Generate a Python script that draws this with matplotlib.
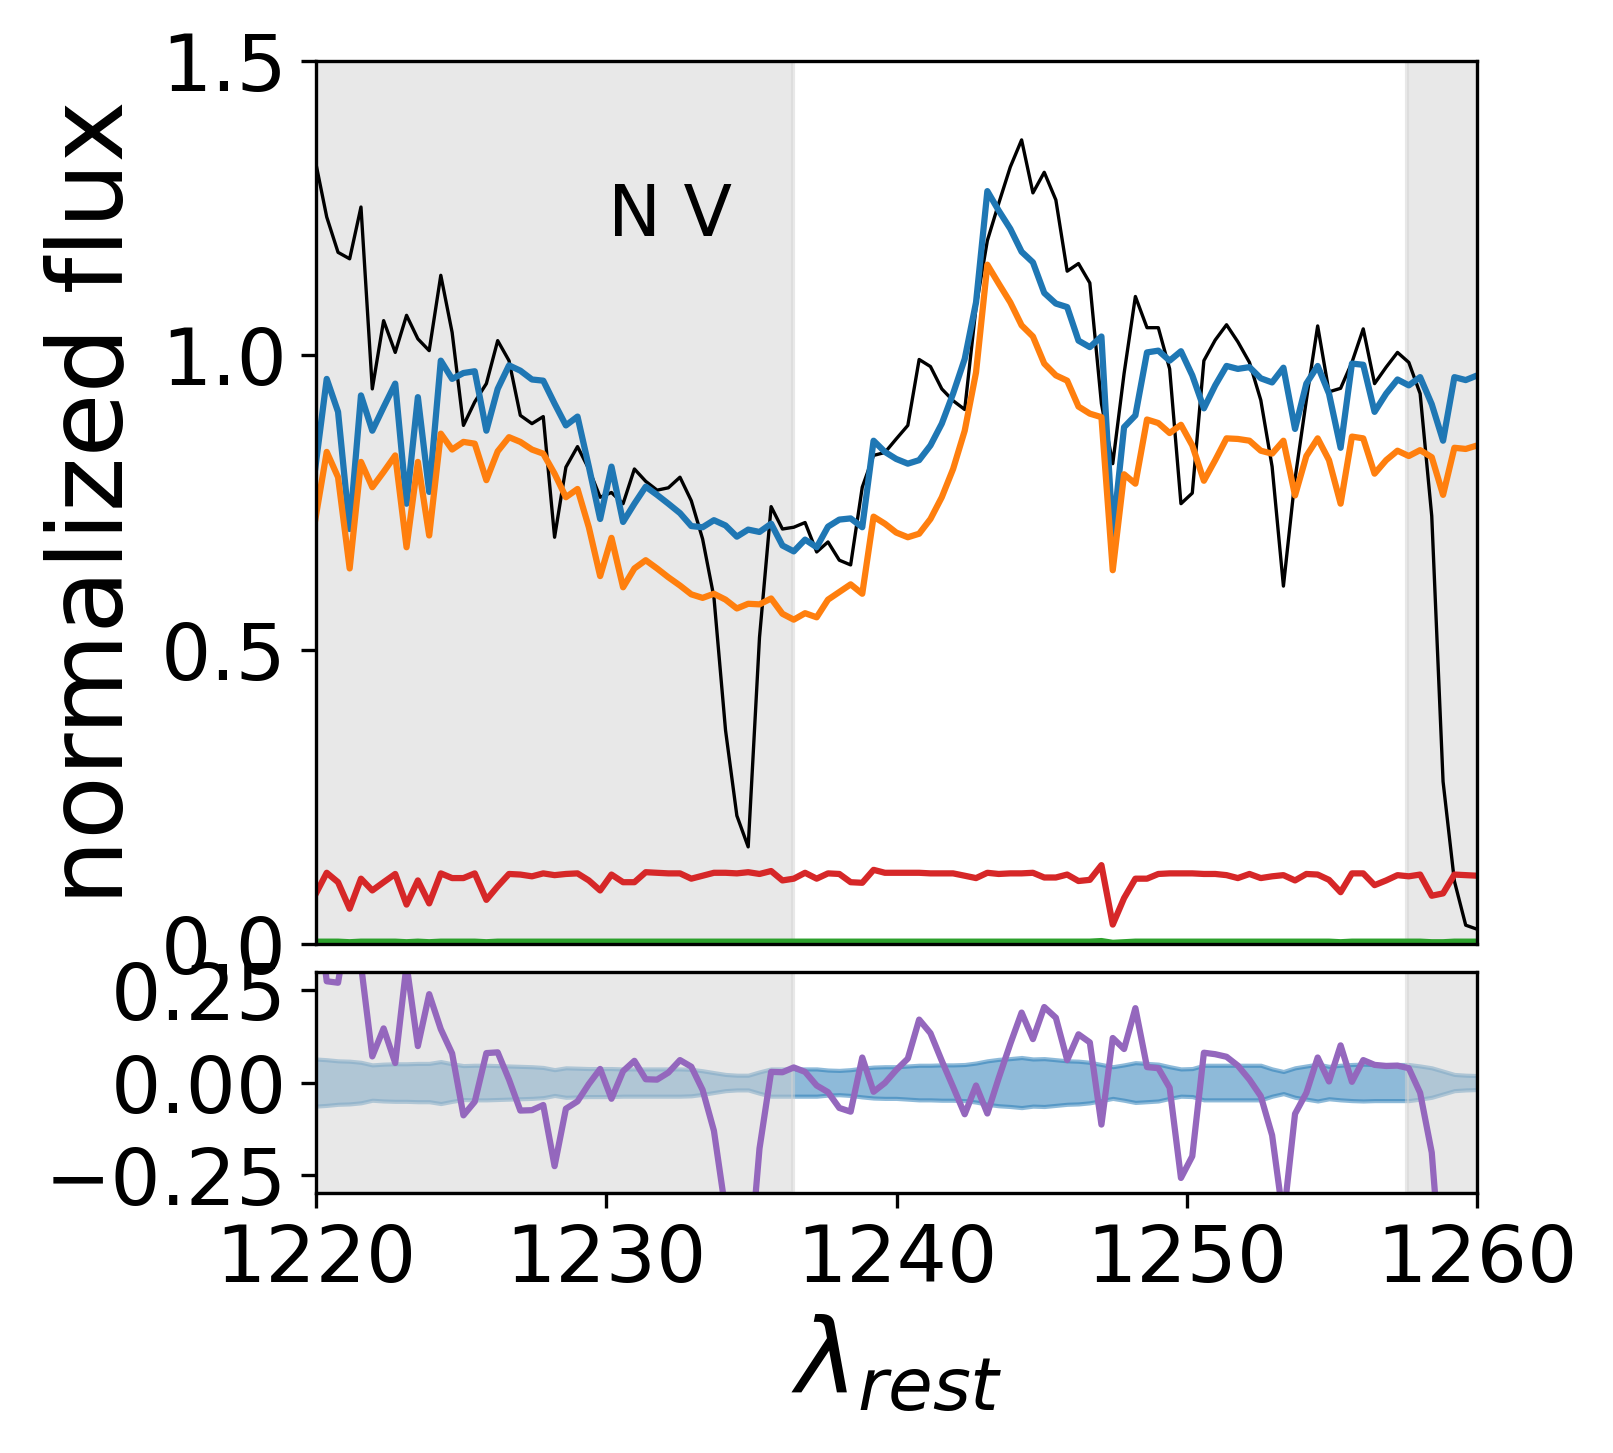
import matplotlib
matplotlib.use("Agg")
from matplotlib import pyplot as plt

# rest-frame wavelength grid of the spectrum
wave = [1219.98, 1220.37, 1220.76, 1221.16, 1221.55, 1221.94, 1222.33, 1222.73, 1223.12, 1223.51,
        1223.90, 1224.30, 1224.69, 1225.08, 1225.47, 1225.87, 1226.26, 1226.65, 1227.04, 1227.44,
        1227.83, 1228.22, 1228.61, 1229.01, 1229.40, 1229.79, 1230.18, 1230.58, 1230.97, 1231.36,
        1231.75, 1232.14, 1232.54, 1232.93, 1233.32, 1233.71, 1234.11, 1234.50, 1234.89, 1235.28,
        1235.68, 1236.07, 1236.46, 1236.85, 1237.25, 1237.64, 1238.03, 1238.42, 1238.82, 1239.21,
        1239.60, 1239.99, 1240.39, 1240.78, 1241.17, 1241.56, 1241.95, 1242.35, 1242.74, 1243.13,
        1243.52, 1243.92, 1244.31, 1244.70, 1245.09, 1245.49, 1245.88, 1246.27, 1246.66, 1247.06,
        1247.45, 1247.84, 1248.23, 1248.63, 1249.02, 1249.41, 1249.80, 1250.19, 1250.59, 1250.98,
        1251.37, 1251.76, 1252.16, 1252.55, 1252.94, 1253.33, 1253.73, 1254.12, 1254.51, 1254.90,
        1255.30, 1255.69, 1256.08, 1256.47, 1256.87, 1257.26, 1257.65, 1258.04, 1258.44, 1258.83,
        1259.22, 1259.61, 1260.01]

# observed normalized flux (black)
flux = [1.330, 1.235, 1.175, 1.164, 1.252, 0.943, 1.059, 1.005, 1.068, 1.028,
        1.008, 1.136, 1.039, 0.881, 0.921, 0.952, 1.025, 0.991, 0.898, 0.884,
        0.896, 0.691, 0.810, 0.845, 0.807, 0.759, 0.767, 0.748, 0.807, 0.786,
        0.771, 0.775, 0.793, 0.753, 0.688, 0.589, 0.363, 0.218, 0.165, 0.521,
        0.743, 0.705, 0.708, 0.716, 0.666, 0.683, 0.652, 0.644, 0.776, 0.830,
        0.835, 0.858, 0.881, 0.993, 0.981, 0.943, 0.923, 0.908, 1.082, 1.195,
        1.258, 1.320, 1.366, 1.276, 1.311, 1.264, 1.143, 1.156, 1.123, 0.918,
        0.816, 0.969, 1.100, 1.047, 1.047, 0.977, 0.748, 0.766, 0.991, 1.026,
        1.052, 1.023, 0.988, 0.924, 0.811, 0.608, 0.790, 0.924, 1.050, 0.938,
        0.944, 0.988, 1.045, 0.952, 0.980, 1.005, 0.988, 0.935, 0.727, 0.276,
        0.107, 0.032, 0.025]

# total model (blue)
model = [0.810, 0.960, 0.904, 0.705, 0.932, 0.872, 0.912, 0.952, 0.748, 0.929,
         0.768, 0.991, 0.960, 0.970, 0.973, 0.872, 0.943, 0.983, 0.974, 0.959,
         0.957, 0.918, 0.881, 0.896, 0.811, 0.722, 0.811, 0.717, 0.748, 0.777,
         0.763, 0.748, 0.732, 0.710, 0.708, 0.720, 0.711, 0.692, 0.704, 0.700,
         0.714, 0.677, 0.667, 0.687, 0.674, 0.709, 0.721, 0.723, 0.708, 0.855,
         0.836, 0.824, 0.816, 0.822, 0.847, 0.884, 0.935, 0.994, 1.090, 1.279,
         1.246, 1.215, 1.176, 1.158, 1.106, 1.088, 1.082, 1.025, 1.014, 1.032,
         0.695, 0.878, 0.898, 1.005, 1.008, 0.991, 1.007, 0.966, 0.910, 0.949,
         0.982, 0.977, 0.980, 0.961, 0.954, 0.979, 0.875, 0.952, 0.982, 0.935,
         0.843, 0.986, 0.984, 0.904, 0.935, 0.959, 0.949, 0.963, 0.917, 0.855,
         0.963, 0.958, 0.966]

# components (orange, red, green)
comp_a = [0.722, 0.836, 0.793, 0.638, 0.819, 0.776, 0.802, 0.830, 0.674, 0.819,
          0.694, 0.867, 0.840, 0.853, 0.850, 0.788, 0.837, 0.861, 0.853, 0.840,
          0.833, 0.799, 0.759, 0.773, 0.708, 0.625, 0.690, 0.606, 0.638, 0.652,
          0.638, 0.623, 0.609, 0.594, 0.588, 0.595, 0.585, 0.570, 0.578, 0.577,
          0.587, 0.561, 0.551, 0.562, 0.555, 0.585, 0.598, 0.611, 0.595, 0.726,
          0.714, 0.699, 0.691, 0.697, 0.722, 0.759, 0.807, 0.872, 0.971, 1.154,
          1.122, 1.090, 1.051, 1.032, 0.986, 0.966, 0.957, 0.913, 0.901, 0.895,
          0.635, 0.798, 0.782, 0.891, 0.885, 0.868, 0.882, 0.847, 0.787, 0.822,
          0.859, 0.858, 0.855, 0.838, 0.833, 0.855, 0.762, 0.829, 0.859, 0.822,
          0.748, 0.862, 0.859, 0.799, 0.822, 0.838, 0.829, 0.839, 0.827, 0.763,
          0.843, 0.841, 0.847]

comp_b = [0.084, 0.121, 0.105, 0.060, 0.111, 0.091, 0.105, 0.119, 0.067, 0.108,
          0.069, 0.120, 0.112, 0.112, 0.120, 0.075, 0.098, 0.119, 0.118, 0.115,
          0.120, 0.117, 0.119, 0.120, 0.108, 0.091, 0.118, 0.105, 0.105, 0.122,
          0.121, 0.120, 0.120, 0.111, 0.116, 0.121, 0.121, 0.120, 0.122, 0.119,
          0.124, 0.108, 0.111, 0.121, 0.111, 0.120, 0.119, 0.105, 0.104, 0.126,
          0.121, 0.121, 0.121, 0.121, 0.120, 0.120, 0.120, 0.116, 0.112, 0.121,
          0.119, 0.120, 0.120, 0.121, 0.113, 0.113, 0.118, 0.107, 0.109, 0.134,
          0.033, 0.078, 0.111, 0.111, 0.119, 0.120, 0.120, 0.120, 0.119, 0.119,
          0.117, 0.112, 0.119, 0.112, 0.115, 0.117, 0.108, 0.119, 0.118, 0.109,
          0.088, 0.120, 0.120, 0.100, 0.108, 0.117, 0.115, 0.118, 0.082, 0.086,
          0.118, 0.117, 0.116]

comp_c = [0.004, 0.004, 0.004, 0.003, 0.004, 0.004, 0.004, 0.004, 0.003, 0.004,
          0.003, 0.004, 0.004, 0.004, 0.004, 0.003, 0.004, 0.004, 0.004, 0.004,
          0.004, 0.004, 0.004, 0.004, 0.004, 0.004, 0.004, 0.004, 0.004, 0.004,
          0.004, 0.004, 0.004, 0.004, 0.004, 0.004, 0.004, 0.004, 0.004, 0.004,
          0.004, 0.004, 0.004, 0.004, 0.004, 0.004, 0.004, 0.004, 0.004, 0.004,
          0.004, 0.004, 0.004, 0.004, 0.004, 0.004, 0.004, 0.004, 0.004, 0.004,
          0.004, 0.004, 0.004, 0.004, 0.004, 0.004, 0.004, 0.004, 0.004, 0.005,
          0.002, 0.003, 0.004, 0.004, 0.004, 0.004, 0.004, 0.004, 0.004, 0.004,
          0.004, 0.004, 0.004, 0.004, 0.004, 0.004, 0.004, 0.004, 0.004, 0.004,
          0.003, 0.004, 0.004, 0.004, 0.004, 0.004, 0.004, 0.004, 0.003, 0.003,
          0.004, 0.004, 0.004]

# 1-sigma flux uncertainty (band in residual panel)
err = [0.064, 0.062, 0.059, 0.058, 0.055, 0.048, 0.050, 0.051, 0.051, 0.052,
       0.052, 0.057, 0.051, 0.046, 0.047, 0.047, 0.046, 0.045, 0.044, 0.043,
       0.041, 0.035, 0.040, 0.039, 0.038, 0.038, 0.038, 0.037, 0.037, 0.037,
       0.037, 0.037, 0.037, 0.036, 0.032, 0.027, 0.022, 0.020, 0.020, 0.029,
       0.037, 0.037, 0.037, 0.037, 0.037, 0.034, 0.033, 0.035, 0.039, 0.042,
       0.043, 0.043, 0.045, 0.047, 0.047, 0.048, 0.048, 0.049, 0.053, 0.059,
       0.063, 0.065, 0.068, 0.064, 0.065, 0.062, 0.059, 0.058, 0.055, 0.049,
       0.043, 0.048, 0.054, 0.052, 0.050, 0.043, 0.037, 0.038, 0.047, 0.047,
       0.047, 0.047, 0.047, 0.047, 0.037, 0.030, 0.040, 0.045, 0.050, 0.044,
       0.047, 0.049, 0.050, 0.049, 0.049, 0.049, 0.049, 0.045, 0.040, 0.031,
       0.022, 0.020, 0.019]

# masked wavelength ranges
masks = [(1215.0, 1236.43), (1257.6, 1265.0)]

resid = [f - m for f, m in zip(flux, model)]
neg_err = [-e for e in err]

fig = plt.figure(figsize=(1613 / 300, 1453 / 300), dpi=300)
ax1 = fig.add_axes([0.1959, 0.3503, 0.7198, 0.6077])
ax2 = fig.add_axes([0.1959, 0.1789, 0.7198, 0.1521], sharex=ax1)

for lo, hi in masks:
    ax1.axvspan(lo, hi, color='lightgray', alpha=0.5, zorder=1)
ax1.plot(wave, flux, color='k', lw=0.8, zorder=2)
ax1.plot(wave, model, color='C0', lw=1.5, zorder=2)
ax1.plot(wave, comp_a, color='C1', lw=1.5, zorder=2)
ax1.plot(wave, comp_b, color='C3', lw=1.5, zorder=2)
ax1.plot(wave, comp_c, color='C2', lw=1.5, zorder=2)
ax1.text(1232.2, 1.236, 'N V', fontsize=17, ha='center', va='center')

ax1.set_xlim(1220, 1260)
ax1.set_ylim(0, 1.5)
ax1.set_yticks([0.0, 0.5, 1.0, 1.5])
ax1.tick_params(axis='x', bottom=False, labelbottom=False)
ax1.tick_params(axis='y', labelsize=19)
ax1.set_ylabel('normalized flux', fontsize=25)

ax2.fill_between(wave, neg_err, err, color='C0', alpha=0.5, zorder=1)
for lo, hi in masks:
    ax2.axvspan(lo, hi, color='lightgray', alpha=0.5, zorder=1)
ax2.plot(wave, resid, color='C4', lw=1.5, zorder=2)
ax2.set_ylim(-0.3, 0.3)
ax2.set_yticks([-0.25, 0.0, 0.25])
ax2.set_xticks([1220, 1230, 1240, 1250, 1260])
ax2.tick_params(labelsize=19)
ax2.set_xlabel(r'$\lambda_{rest}$', fontsize=25)

fig.savefig('out.png', dpi=300)
